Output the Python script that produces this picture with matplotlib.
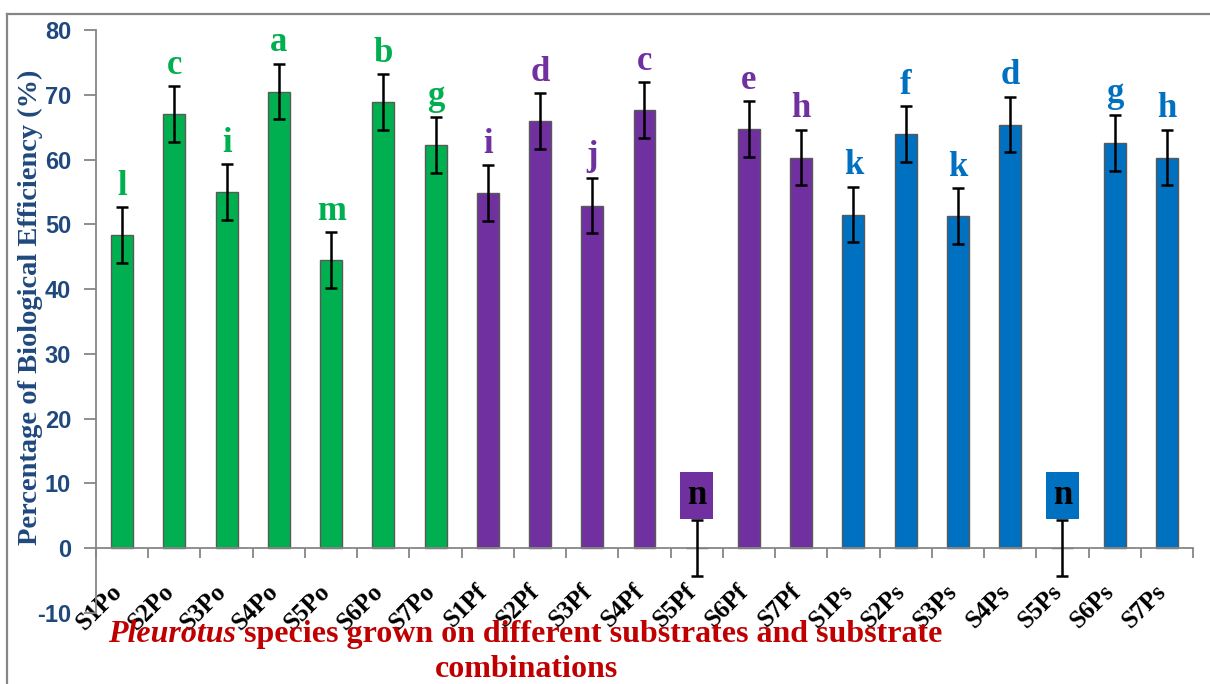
import matplotlib
matplotlib.use("Agg")
import matplotlib.pyplot as plt
import matplotlib.transforms as mtransforms
from matplotlib.lines import Line2D

plt.rcParams["axes.unicode_minus"] = False

# Datos
categorias = ["S1Po", "S2Po", "S3Po", "S4Po", "S5Po", "S6Po", "S7Po",
              "S1Pf", "S2Pf", "S3Pf", "S4Pf", "S5Pf", "S6Pf", "S7Pf",
              "S1Ps", "S2Ps", "S3Ps", "S4Ps", "S5Ps", "S6Ps", "S7Ps"]
grupos = ["Po"] * 7 + ["Pf"] * 7 + ["Ps"] * 7
eficiencia = [48.3, 67.0, 55.0, 70.5, 44.5, 68.9, 62.2,
              54.8, 65.9, 52.9, 67.6, 0.0, 64.7, 60.3,
              51.5, 63.9, 51.3, 65.4, 0.0, 62.6, 60.3]
error = [4.3] * 21
letras = ["l", "c", "i", "a", "m", "b", "g",
          "i", "d", "j", "c", "n", "e", "h",
          "k", "f", "k", "d", "n", "g", "h"]
yticks = [-10, 0, 10, 20, 30, 40, 50, 60, 70, 80]

colores_grupo = {"Po": "#00B050", "Pf": "#7030A0", "Ps": "#0070C0"}
AZUL_TEXTO = "#1F497D"
ROJO_TEXTO = "#C00000"
GRIS = "#868686"
SERIF = "Liberation Serif"

W, H = 1210, 684
fig = plt.figure(figsize=(W / 100, H / 100), dpi=100)
ax = fig.add_axes([96 / W, 71 / H, 1097 / W, 583 / H])

x = list(range(len(categorias)))
colores = [colores_grupo[g] for g in grupos]

ax.bar(x, eficiencia, width=0.42, color=colores, edgecolor="#595959", linewidth=1.0, zorder=2)
ax.errorbar(x, eficiencia, yerr=error, fmt="none", ecolor="black",
            elinewidth=1.8, capsize=4.4, capthick=1.8, zorder=3)

# Letras de significancia
for i, (v, e, l, c) in enumerate(zip(eficiencia, error, letras, colores)):
    if v == 0:
        ax.annotate(l, (i, v + e), xytext=(0, 12), textcoords="offset points",
                    ha="center", va="baseline", fontsize=25, fontweight="bold",
                    family=SERIF, color="black", zorder=4,
                    bbox=dict(boxstyle="square,pad=0.2", fc=c, ec="none"))
    else:
        ax.annotate(l, (i, v + e), xytext=(0, 9), textcoords="offset points",
                    ha="center", va="baseline", fontsize=25, fontweight="bold",
                    family=SERIF, color=c, zorder=4)

ax.set_xlim(-0.5, len(categorias) - 0.5)
ax.set_ylim(-10, 80)

ax.spines["top"].set_visible(False)
ax.spines["right"].set_visible(False)
ax.spines["left"].set_color(GRIS)
ax.spines["left"].set_linewidth(1.3)
ax.spines["bottom"].set_position(("data", 0))
ax.spines["bottom"].set_color(GRIS)
ax.spines["bottom"].set_linewidth(1.3)

ax.set_yticks(yticks)
ax.tick_params(axis="y", length=9, width=1.3, color=GRIS, pad=9,
               labelsize=17, labelcolor=AZUL_TEXTO)
for t in ax.get_yticklabels():
    t.set_fontfamily("Liberation Sans")
    t.set_fontweight("bold")

ax.set_xticks(x)
ax.set_xticklabels(categorias, rotation=45, ha="right", va="top",
                   fontsize=18, fontweight="bold", family=SERIF)
ax.set_xticks([i - 0.5 for i in range(len(categorias) + 1)], minor=True)
ax.tick_params(axis="x", which="major", length=0, pad=23)
ax.tick_params(axis="x", which="minor", length=7, width=1.3, color=GRIS)
desplaz = mtransforms.ScaledTranslation(4 / 100, 0, fig.dpi_scale_trans)
for t in ax.get_xticklabels():
    t.set_transform(t.get_transform() + desplaz)

# Titulo del eje Y
fig.text(30 / W, 1 - 307 / H, "Percentage of Biological Efficiency (%)",
         rotation=90, ha="center", va="center", fontsize=20.5,
         fontweight="bold", family=SERIF, color=AZUL_TEXTO)

# Titulo del eje X (dos lineas, "Pleurotus" en cursiva)
renderer = fig.canvas.get_renderer()
y1 = (H - 642) / H
t1 = fig.text(0, y1, "Pleurotus", fontsize=23, fontweight="bold", style="italic",
              family=SERIF, color=ROJO_TEXTO, va="baseline")
t2 = fig.text(0, y1, " species grown on different substrates and substrate",
              fontsize=23, fontweight="bold", family=SERIF, color=ROJO_TEXTO, va="baseline")
w1 = t1.get_window_extent(renderer).width
w2 = t2.get_window_extent(renderer).width
x0 = 525 - (w1 + w2) / 2
t1.set_x(x0 / W)
t2.set_x((x0 + w1) / W)
fig.text(526 / W, (H - 677) / H, "combinations", fontsize=23, fontweight="bold",
         family=SERIF, color=ROJO_TEXTO, ha="center", va="baseline")

# Marco del area del grafico
fig.add_artist(Line2D([7 / W, 7 / W], [0, 1 - 14 / H], transform=fig.transFigure,
                      color=GRIS, linewidth=1.6))
fig.add_artist(Line2D([7 / W, 1], [1 - 14 / H, 1 - 14 / H], transform=fig.transFigure,
                      color=GRIS, linewidth=1.6))

fig.savefig("out.png", dpi=100)
